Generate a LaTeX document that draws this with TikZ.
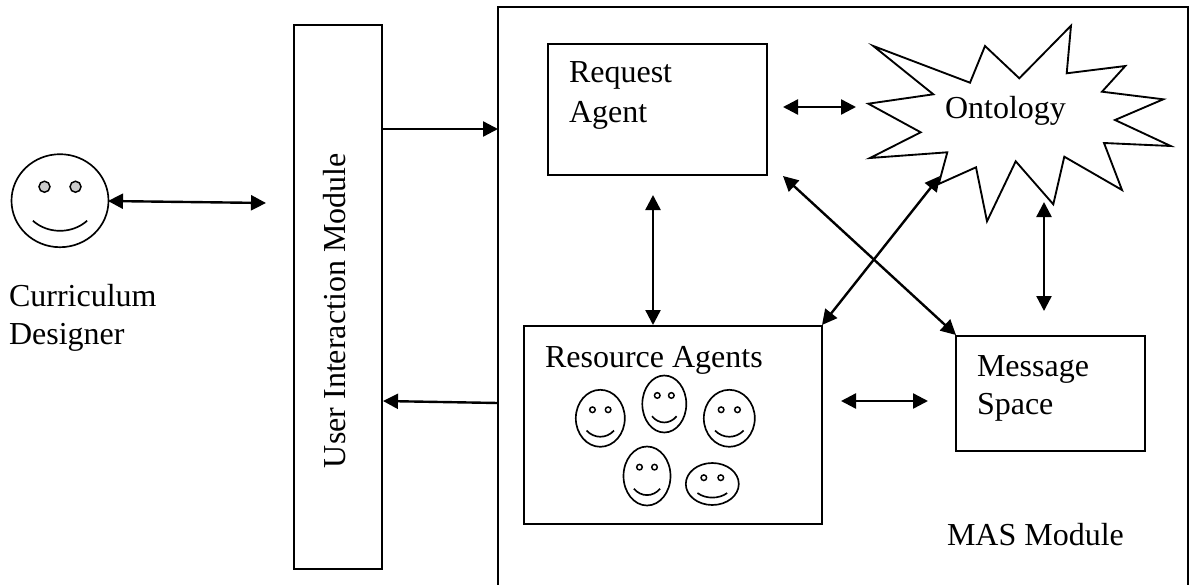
\documentclass[tikz,border=0pt]{standalone}
\usepackage{fontspec}
\setmainfont{Liberation Serif}
\usetikzlibrary{arrows.meta,shapes.geometric}
\tikzset{
  box/.style={draw,line width=1.4pt,fill=none,inner sep=0pt,outer sep=0pt},
  lbl/.style={inner sep=0pt,outer sep=0pt,anchor=base west,font=\fontsize{24}{28}\selectfont},
  conn/.style={line width=1.8pt,{Triangle[length=11.25pt,width=11.25pt]}-{Triangle[length=11.25pt,width=11.25pt]}},
  oneway/.style={line width=1.8pt,-{Triangle[length=11.25pt,width=11.25pt]}},
  facel/.style={draw,ellipse,line width=1.25pt,inner sep=0pt,outer sep=0pt},
}
% \smiley{name}{cx}{cy}{rx}{ry}{eye radius}{eye fill}
\newcommand{\smiley}[7]{%
  \node[facel,minimum width=#4*1.5pt,minimum height=#5*1.5pt] (#1) at (#2,#3) {};
  \begin{scope}[shift={(#2,#3)},x=#4*0.75pt,y=-#5*0.75pt]
    \draw[line width=1.1pt,fill=#7] (-0.32,-0.30) ellipse[x radius=#6*0.75pt,y radius=#6*0.75pt];
    \draw[line width=1.1pt,fill=#7] (0.32,-0.30) ellipse[x radius=#6*0.75pt,y radius=#6*0.75pt];
    \draw[line width=1.25pt] (-0.56,0.43) .. controls (-0.25,0.72) and (0.25,0.72) .. (0.56,0.43);
  \end{scope}
}
\begin{document}
\begin{tikzpicture}[x=0.75pt,y=-0.75pt]
\useasboundingbox (0,0) rectangle (1195,585);
% boxes
\node[box,minimum width=66pt,minimum height=408pt] (ui) at (338,297) {};
\draw[line width=1.4pt] (498,585) -- (498,7) -- (1188,7) -- (1188,585);
\coordinate (masW1) at (498,129);
\coordinate (masW2) at (498,403);
\node[box,minimum width=164.25pt,minimum height=98.25pt] (req) at (657.5,109.5) {};
\node[box,minimum width=223.5pt,minimum height=148.5pt] (res) at (673,425) {};
\node[box,minimum width=141.75pt,minimum height=86.25pt] (msg) at (1050.5,393.5) {};
% ontology star
\draw[line width=1.4pt,line join=miter,miter limit=10]
 (873.3,46)--(970,82.7)--(985,46)--(1019.3,78.3)--(1071,25.7)--(1066.7,73.3)--(1125.3,66)--(1102,91.7)--(1163.3,99.3)--(1115,120)--(1170.7,146)--(1104,143)--(1122,190)--(1064.3,156.7)--(1053.3,204.3)--(1015.7,161.3)--(987,221.3)--(976,167.3)--(938.7,184)--(947.3,152.3)--(870,158)--(920.7,132.3)--(868.3,103.7)--(933.3,94.3)--cycle;
% labels
\node[lbl] (t1) at (945,118) {Ontology};
\node[lbl] (t2) at (569,83) {Request};
\node[lbl] (t3) at (569,122) {Agent};
\node[lbl] (t4) at (545,367) {Resource Agents};
\node[lbl] (t5) at (977,376) {Message};
\node[lbl] (t6) at (977,414) {Space};
\node[lbl] (t7) at (947,545) {MAS Module};
\node[lbl] (t8) at (9,306) {Curriculum};
\node[lbl] (t9) at (9,344) {Designer};
\node[lbl,rotate=90] (t10) at (345,468) {User Interaction Module};
% faces
\smiley{cd}{60}{200.7}{48.5}{46.5}{5.5}{black!20}
\smiley{f1}{600.3}{418.3}{24.5}{28.5}{2.8}{white}
\smiley{f2}{664.3}{404}{22}{28.5}{2.8}{white}
\smiley{f3}{729.3}{418.3}{25.5}{28.5}{2.8}{white}
\smiley{f4}{647}{476}{23.5}{29.5}{2.8}{white}
\smiley{f5}{712.3}{484}{26.5}{21}{2.8}{white}
% connector ends
\coordinate (a1) at (108,201); \coordinate (a2) at (266,203);
\coordinate (b1) at (383,129);
\coordinate (c2) at (383,401);
\coordinate (d1) at (783,107); \coordinate (d2) at (856,107);
\coordinate (e1) at (653,195); \coordinate (e2) at (653,325);
\coordinate (g1) at (783,176); \coordinate (g2) at (956,335);
\coordinate (h1) at (822,325); \coordinate (h2) at (940,176);
\coordinate (i1) at (1044,202); \coordinate (i2) at (1044,311);
\coordinate (j1) at (841,401); \coordinate (j2) at (928,401);
% connectors
\draw[conn] (a1) -- (a2);
\draw[oneway] (b1) -- (masW1);
\draw[oneway] (masW2) -- (c2);
\draw[conn] (d1) -- (d2);
\draw[conn] (e1) -- (e2);
\draw[conn] (g1) -- (g2);
\draw[conn] (h1) -- (h2);
\draw[conn] (i1) -- (i2);
\draw[conn] (j1) -- (j2);
\end{tikzpicture}
\end{document}
